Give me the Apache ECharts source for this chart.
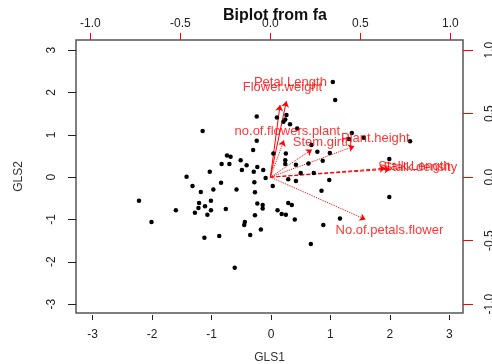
<!DOCTYPE html>
<html>
<head>
<meta charset="utf-8">
<script src="https://cdn.jsdelivr.net/npm/echarts@6.0.0/dist/echarts.min.js"></script>
<style>
  html, body { margin: 0; padding: 0; background: #fff; }
  #chart { width: 492px; height: 364px; }
</style>
</head>
<body>
<div id="chart"></div>
<script>
// factor scores (GLS1, GLS2)
const gls1 = [
  -1.15, -0.24, -0.30, -0.74, -0.68, -0.51, -0.83, -0.70, -0.41, -0.23,
  -0.49, -0.29, -0.13, -1.03, -1.42, -0.09, -0.84, -0.28, -1.32, -1.18,
  -0.97, -0.58, -0.27, -2.22, -1.21, -1.01, -0.23, -0.14, -0.14, -1.60,
  -1.22, -1.11, -1.01, -0.76, -1.28, -1.07, -0.27, -0.44, -0.45, -2.01,
  -0.17, -0.35, -1.12, -0.87, -0.61,
  0.04, 0.25, 0.24, 0.24, 0.42, 0.63, 0.78, 0.99, 0.87, 0.68,
  0.03, 0.29, 0.42, 0.50, 0.72, 0.98, 0.85, 1.99, 1.99, 0.11,
  0.29, 0.35, 0.18, 0.25, 0.40, 0.88, 1.16, 0.67, 1.31, 1.56,
  2.34, 1.04, 1.08, -0.24, 0.10, 0.26, 0.24, 0.21, 0.32, 0.44, 1.36
];
const gls2 = [
  1.09, 0.86, 0.64, 0.51, 0.48, 0.40, 0.31, 0.31, 0.28, 0.24,
  0.17, 0.13, 0.17, 0.13, 0.01, -0.02, -0.13, -0.12, -0.21, -0.35,
  -0.29, -0.29, -0.36, -0.56, -0.61, -0.56, -0.62, -0.66, -0.74, -0.78,
  -0.73, -0.69, -0.78, -0.75, -0.84, -0.89, -0.90, -1.06, -1.13, -1.06,
  -1.24, -1.37, -1.43, -1.39, -2.14,
  0.56, 0.56, 0.40, 0.31, 0.29, 0.32, 0.60, 0.57, 0.39, 0.76,
  -0.21, -0.05, -0.09, 0.10, 0.10, -0.07, -0.32, 0.43, -0.47, -0.78,
  -0.61, -0.66, -0.87, -0.89, -1.00, -1.13, -0.98, -1.58, 0.90, 0.93,
  0.85, 2.25, 1.82, 1.43, 1.41, 1.47, 1.36, 1.31, 1.25, 1.15, 1.04
];

// loadings (top / right axes)
const varNames = ['Petal.Length', 'Flower.weight', 'no.of.flowers.plant', 'Stem.girth',
  'Plant.height', 'Stalk.Length', 'Stalk.density', 'No.of.petals.flower'];
const load1 = [0.111, 0.067, 0.094, 0.289, 0.583, 0.800, 0.833, 0.661];
const load2 = [0.748, 0.709, 0.362, 0.272, 0.305, 0.087, 0.079, -0.417];
const arrowTypes = ['solid', 'solid', 'dotted', 'dotted', 'dotted', 'dashed', 'dashed', 'dotted'];

const xTicks = [-3, -2, -1, 0, 1, 2, 3];
const yTicks = [-3, -2, -1, 0, 1, 2, 3];
const loadTicks = [-1, -0.5, 0, 0.5, 1];

const scores = gls1.map((v, i) => [v, gls2[i]]);
// arrows drawn to 0.8 of the loading, names at the loading itself
const arrows = varNames.map((n, i) => ({
  coords: [[0, 0], [load1[i] * 0.8, load2[i] * 0.8]],
  lineStyle: { type: arrowTypes[i] }
}));
const labels = varNames.map((n, i) => ({ name: n, value: [load1[i], load2[i]] }));

const font = 'Liberation Sans, Arial, sans-serif';
const chart = echarts.init(document.getElementById('chart'));
chart.setOption({
  animation: false,
  title: {
    text: 'Biplot from fa',
    left: 270, top: 3,
    textAlign: 'center',
    textStyle: { fontFamily: font, fontSize: 16, fontWeight: 'bold', color: '#111' }
  },
  grid: {
    left: 76, right: 29, top: 40, bottom: 51,
    outerBoundsMode: 'none',
    show: true, borderColor: '#555', borderWidth: 1.5, backgroundColor: 'transparent'
  },
  xAxis: [
    {
      type: 'value', position: 'bottom', min: -3.28, max: 3.23, offset: 2,
      name: 'GLS1', nameLocation: 'middle', nameGap: 37,
      nameTextStyle: { fontFamily: font, fontSize: 12, color: '#333' },
      axisLine: { show: false, onZero: false },
      axisTick: { show: true, length: 5, customValues: xTicks, lineStyle: { color: '#222' } },
      axisLabel: { customValues: xTicks, margin: 14, fontFamily: font, fontSize: 12, color: '#222' },
      splitLine: { show: false }
    },
    {
      type: 'value', position: 'top', min: -1.08, max: 1.07,
      axisLine: { show: false, onZero: false },
      axisTick: { show: true, length: 7, customValues: loadTicks, lineStyle: { color: 'red' } },
      axisLabel: {
        customValues: loadTicks, margin: 10, fontFamily: font, fontSize: 12, color: '#222',
        formatter: v => v.toFixed(1)
      },
      splitLine: { show: false }
    }
  ],
  yAxis: [
    {
      type: 'value', position: 'left', min: -3.21, max: 3.24,
      name: 'GLS2', nameLocation: 'middle', nameGap: 51, nameRotate: 90,
      nameTextStyle: { fontFamily: font, fontSize: 12, color: '#333' },
      axisLine: { show: false, onZero: false },
      axisTick: { show: true, length: 8, customValues: yTicks, lineStyle: { color: '#222' } },
      axisLabel: { customValues: yTicks, rotate: 90, margin: 18, fontFamily: font, fontSize: 12, color: '#222' },
      splitLine: { show: false }
    },
    {
      type: 'value', position: 'right', min: -1.07, max: 1.08,
      axisLine: { show: false, onZero: false },
      axisTick: { show: true, length: 10, customValues: loadTicks, lineStyle: { color: 'red' } },
      axisLabel: {
        customValues: loadTicks, rotate: 90, margin: 21, fontFamily: font, fontSize: 12, color: '#222',
        formatter: v => v.toFixed(1)
      },
      splitLine: { show: false }
    }
  ],
  series: [
    {
      type: 'scatter',
      xAxisIndex: 0, yAxisIndex: 0,
      data: scores,
      symbol: 'circle',
      symbolSize: 4.5,
      itemStyle: { color: '#000', opacity: 1 },
      silent: true
    },
    {
      type: 'lines',
      coordinateSystem: 'cartesian2d',
      xAxisIndex: 1, yAxisIndex: 1,
      data: arrows,
      symbol: ['none', 'arrow'],
      symbolSize: 6,
      lineStyle: { color: 'red', width: 1, opacity: 1 },
      silent: true
    },
    {
      type: 'scatter',
      xAxisIndex: 1, yAxisIndex: 1,
      data: labels,
      symbolSize: 1,
      itemStyle: { color: 'transparent' },
      label: {
        show: true, position: 'inside', formatter: '{b}',
        fontFamily: font, fontSize: 13, color: 'red'
      },
      silent: true
    }
  ]
});
</script>
</body>
</html>
